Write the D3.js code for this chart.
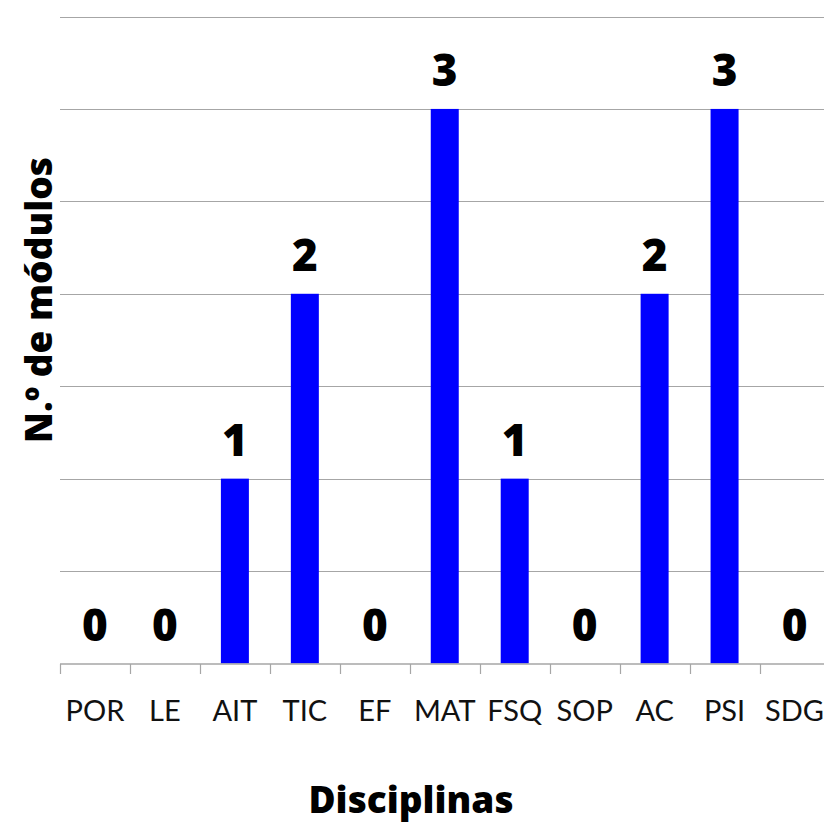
<!DOCTYPE html>
<html>
<head>
<meta charset="utf-8">
<script src="https://cdn.jsdelivr.net/npm/d3@7"></script>
<style>
html,body{margin:0;padding:0;background:#fff;}
svg{display:block;}
</style>
</head>
<body>
<svg id="chart" width="824" height="823"></svg>
<script>
const categories = ["POR","LE","AIT","TIC","EF","MAT","FSQ","SOP","AC","PSI","SDG"];
const values = [0,0,1,2,0,3,1,0,2,3,0];
const yTicks = [0,0.5,1,1.5,2,2.5,3,3.5];
const xTitle = "Disciplinas";
const yTitle = "N.º de módulos";

(function(){
const svg = d3.select("#chart");
const font = "Lato, 'Open Sans', sans-serif";
const boldFont = "'Open Sans', Lato, sans-serif";
const mLeft = 60, mRight = 829.5, mTop = 16.5, mBottom = 663.5;

const xb = d3.scaleBand().domain(categories).range([mLeft, mRight]);
const y = d3.scaleLinear().domain([0, 3.5]).range([mBottom, mTop]);

// gridlines
svg.append("g").selectAll("line").data(yTicks.slice(1)).join("line")
  .attr("x1", mLeft).attr("x2", 824)
  .attr("y1", d => Math.round(y(d)) + 0.5).attr("y2", d => Math.round(y(d)) + 0.5)
  .attr("stroke", "#a6a6a6").attr("stroke-width", 1.2);

// bars
svg.append("g").selectAll("rect").data(categories).join("rect")
  .attr("x", (d) => xb(d) + xb.bandwidth()/2 - 14)
  .attr("width", 28)
  .attr("y", (d,i) => y(values[i]))
  .attr("height", (d,i) => y(0) - y(values[i]))
  .attr("fill", "#0000ff");

// x axis
const gx = svg.append("g").attr("transform", `translate(0,${Math.round(mBottom)})`);
gx.append("line").attr("x1", mLeft).attr("x2", 824).attr("y1", 0).attr("y2", 0)
  .attr("stroke", "#a6a6a6").attr("stroke-width", 1.5);
gx.selectAll("line.tk").data(categories).join("line").attr("class","tk")
  .attr("x1", d => Math.round(xb(d)) + 0.5).attr("x2", d => Math.round(xb(d)) + 0.5)
  .attr("y1", 0).attr("y2", 10).attr("stroke", "#a6a6a6").attr("stroke-width", 1.2);
gx.selectAll("text.lbl").data(categories).join("text").attr("class","lbl")
  .attr("x", d => xb(d) + xb.bandwidth()/2)
  .attr("y", 57)
  .attr("text-anchor", "middle")
  .attr("font-family", font).attr("font-size", 29).attr("fill", "#111")
  .text(d => d);

// value labels
svg.append("g").selectAll("text").data(categories).join("text")
  .attr("x", d => xb(d) + xb.bandwidth()/2)
  .attr("y", (d,i) => y(values[i]) - 23)
  .attr("text-anchor", "middle")
  .attr("font-family", boldFont).attr("font-weight", 800).attr("font-size", 44).attr("fill", "#000")
  .text((d,i) => values[i]);

// axis titles
svg.append("text").attr("x", 411).attr("y", 813)
  .attr("text-anchor", "middle").attr("font-family", boldFont).attr("font-weight", 800)
  .attr("font-size", 37).attr("fill", "#000").text(xTitle);
svg.append("text").attr("transform", "translate(52,300) rotate(-90)")
  .attr("text-anchor", "middle").attr("font-family", boldFont).attr("font-weight", 800)
  .attr("font-size", 37).attr("fill", "#000").text(yTitle);
})();
</script>
</body>
</html>
